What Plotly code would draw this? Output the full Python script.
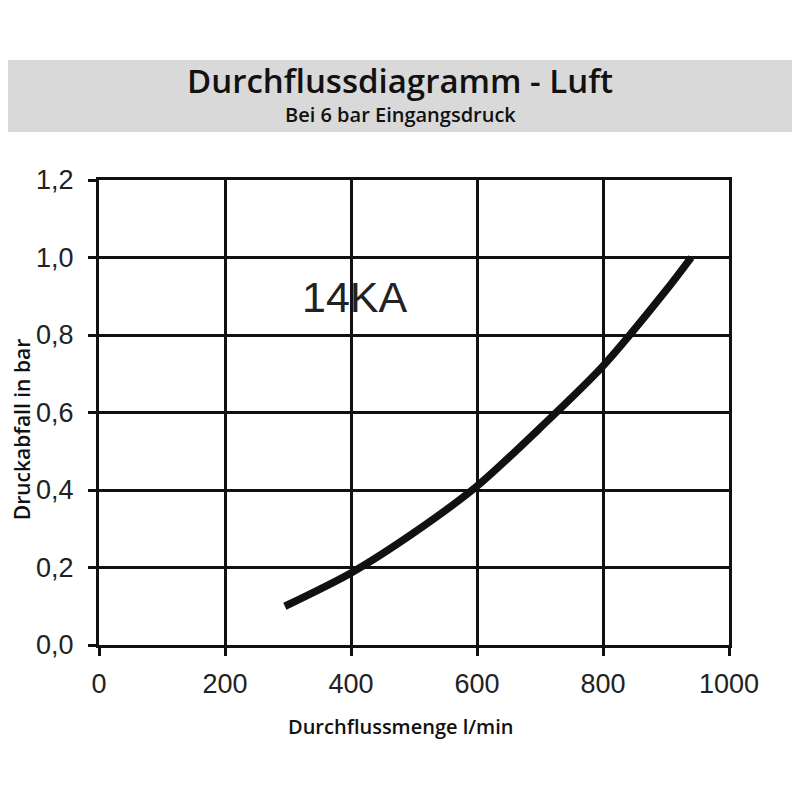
import plotly.graph_objects as go

# curve
flow = [295, 400, 500, 600, 700, 800, 900, 940]
drop = [0.10, 0.186, 0.29, 0.41, 0.56, 0.72, 0.915, 1.0]

x_ticks = [0, 200, 400, 600, 800, 1000]
y_ticks = [0.0, 0.2, 0.4, 0.6, 0.8, 1.0, 1.2]
y_labels = ["0,0", "0,2", "0,4", "0,6", "0,8", "1,0", "1,2"]

fig = go.Figure()

fig.add_trace(go.Scatter(
    x=flow, y=drop,
    mode='lines',
    line=dict(color='#111111', width=7.5, shape='spline', smoothing=0.8),
    showlegend=False,
    hoverinfo='skip'
))

tick_font = dict(family="Liberation Sans, Arial", size=27, color='#222222')
axis_common = dict(
    showgrid=True, gridcolor='#111111', gridwidth=3,
    showline=True, linecolor='#111111', linewidth=3, mirror=True,
    ticks='outside', ticklen=8, tickwidth=3, tickcolor='#111111',
    zeroline=False, tickfont=tick_font
)

# page has an 8px body margin, so everything is laid out 8px up/left
fig.update_layout(
    width=792, height=792,
    paper_bgcolor='white', plot_bgcolor='white',
    margin=dict(l=91, r=71, t=172, b=155),
    xaxis=dict(range=[0, 1000], tickvals=x_ticks, ticklabelstandoff=5, **axis_common),
    yaxis=dict(range=[0, 1.2], tickvals=y_ticks, ticktext=y_labels, ticklabelstandoff=9, **axis_common),
    shapes=[dict(
        type='rect', xref='paper', yref='paper',
        x0=-0.2, x1=1.2, y0=1.1032, y1=1.258,
        fillcolor='#d9d9d9', line=dict(width=0), layer='below'
    )],
    annotations=[
        dict(text="Durchflussdiagramm - Luft", xref='paper', yref='paper',
             x=0.478, y=1.215, xanchor='center', yanchor='middle', showarrow=False,
             font=dict(family="Open Sans", size=33, weight=600, color='#111111')),
        dict(text="Bei 6 bar Eingangsdruck", xref='paper', yref='paper',
             x=0.478, y=1.1398, xanchor='center', yanchor='middle', showarrow=False,
             font=dict(family="Open Sans", size=20, weight=600, color='#111111')),
        dict(text="Durchflussmenge l/min", xref='paper', yref='paper',
             x=0.478, y=-0.1763, xanchor='center', yanchor='middle', showarrow=False,
             font=dict(family="Open Sans", size=20, weight=600, color='#111111')),
        dict(text="Druckabfall in bar", xref='paper', yref='paper',
             x=-0.1222, y=0.462, xanchor='center', yanchor='middle', showarrow=False,
             textangle=-90,
             font=dict(family="Open Sans", size=21, weight=600, color='#111111')),
        dict(text="14KA", x=406, y=0.898, xanchor='center', yanchor='middle', showarrow=False,
             font=dict(family="Liberation Sans, Arial", size=43, color='#222222')),
    ]
)

fig.write_html("out.html")
